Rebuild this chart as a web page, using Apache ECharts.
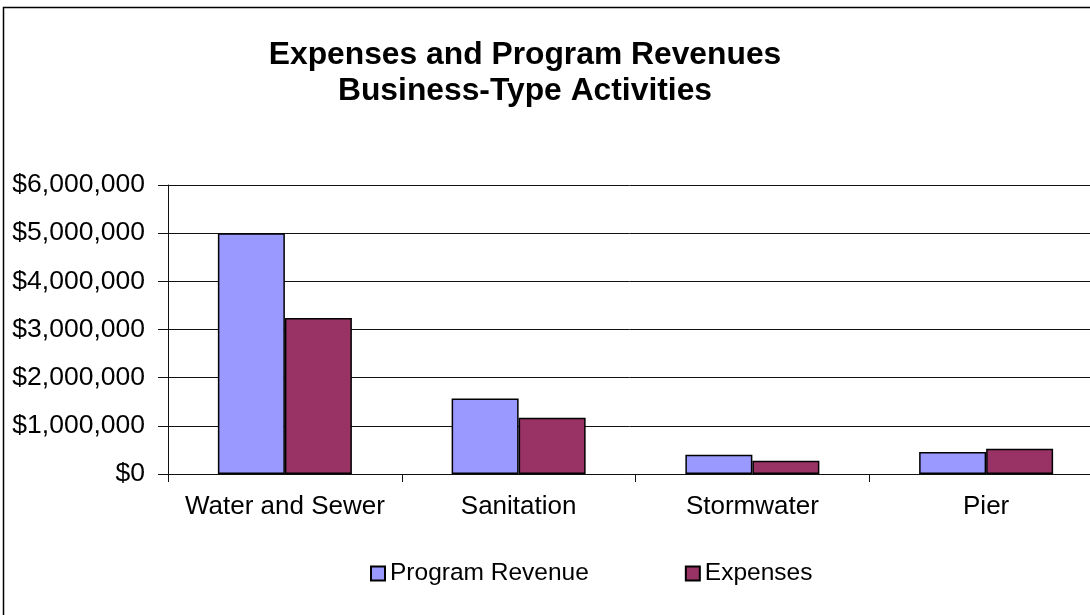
<!DOCTYPE html>
<html>
<head>
<meta charset="utf-8">
<script src="https://cdn.jsdelivr.net/npm/echarts@6/dist/echarts.min.js"></script>
<style>html,body{margin:0;padding:0;background:#fff;}#c{width:1090px;height:615px;}</style>
</head>
<body>
<div id="c"></div>
<script>
const categories = ['Water and Sewer', 'Sanitation', 'Stormwater', 'Pier'];
const programRevenue = [5000000, 1570000, 400000, 455000];
const expenses = [3240000, 1170000, 275000, 525000];
const yTicks = [0, 1000000, 2000000, 3000000, 4000000, 5000000, 6000000];

const FONT = '"Liberation Sans", Arial, sans-serif';
const chart = echarts.init(document.getElementById('c'), null, {renderer: 'canvas'});
function money(v) {
  return '$' + String(v).replace(/\B(?=(\d{3})+(?!\d))/g, ',');
}
chart.setOption({
  animation: false,
  backgroundColor: '#ffffff',
  title: {
    text: 'Expenses and Program Revenues\nBusiness-Type Activities',
    left: 525,
    top: 37,
    textAlign: 'center',
    padding: 0,
    textStyle: {fontFamily: FONT, fontWeight: 'bold', fontSize: 31.8, lineHeight: 36, color: '#000'}
  },
  legend: {
    left: 370,
    top: 561,
    itemWidth: 14,
    itemHeight: 14,
    itemGap: 96,
    padding: 0,
    icon: 'rect',
    textStyle: {fontFamily: FONT, fontSize: 24.5, color: '#000'},
    data: ['Program Revenue', 'Expenses']
  },
  graphic: [{
    type: 'rect',
    shape: {x: 3.5, y: 7.5, width: 1100, height: 620},
    style: {fill: 'none', stroke: '#000', lineWidth: 1.5},
    silent: true,
    z: 100
  }],
  grid: {left: 168, top: 185, bottom: 141, right: -13, containLabel: false, outerBoundsMode: 'none'},
  xAxis: {
    type: 'category',
    data: categories,
    axisLine: {lineStyle: {color: '#111', width: 1}},
    axisTick: {show: true, length: 8, interval: 0, lineStyle: {color: '#111'}},
    axisLabel: {fontFamily: FONT, fontSize: 26, color: '#000', margin: 20, interval: 0}
  },
  yAxis: {
    type: 'value',
    min: yTicks[0],
    max: yTicks[yTicks.length - 1],
    interval: yTicks[1] - yTicks[0],
    axisLine: {show: true, lineStyle: {color: '#111', width: 1}},
    axisTick: {show: true, length: 10, lineStyle: {color: '#111'}},
    splitLine: {show: true, lineStyle: {color: '#111', width: 1}},
    axisLabel: {fontFamily: FONT, fontSize: 26.5, color: '#000', margin: 23, formatter: money}
  },
  series: [
    {
      name: 'Program Revenue',
      type: 'bar',
      data: programRevenue,
      barWidth: 67,
      barGap: '0%',
      itemStyle: {color: '#9999FF', borderColor: '#000', borderWidth: 1.5}
    },
    {
      name: 'Expenses',
      type: 'bar',
      data: expenses,
      barWidth: 67,
      barGap: '0%',
      itemStyle: {color: '#993366', borderColor: '#000', borderWidth: 1.5}
    }
  ]
});
</script>
</body>
</html>
